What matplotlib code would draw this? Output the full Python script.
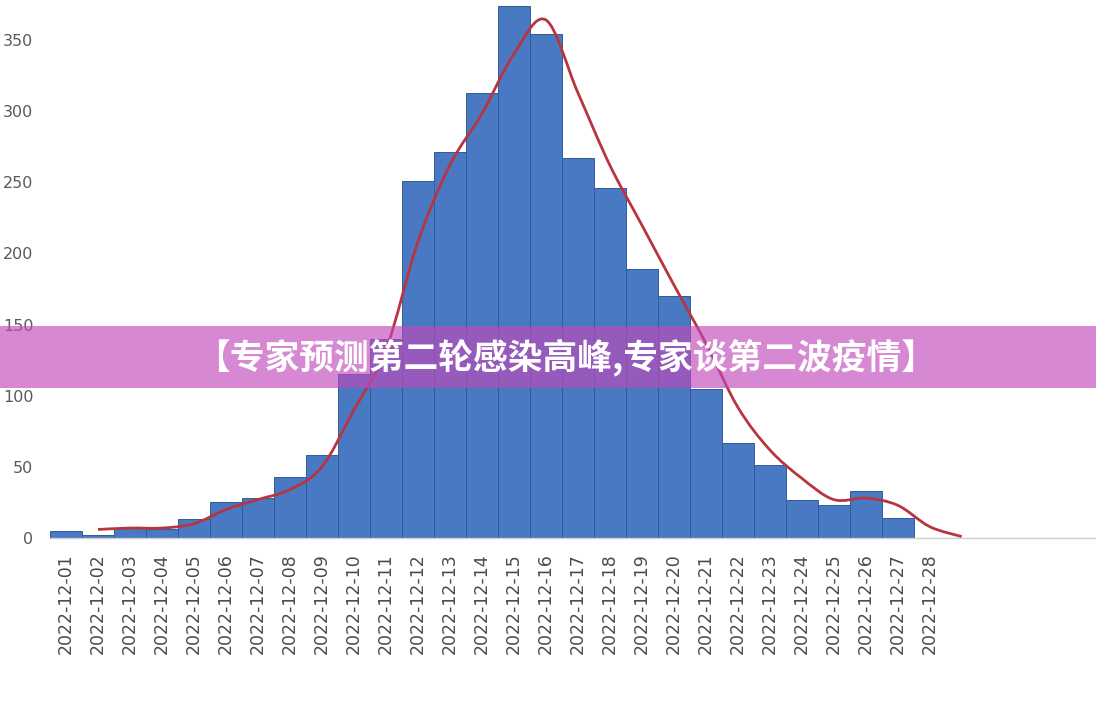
import numpy as np
import matplotlib
matplotlib.use("Agg")
import matplotlib.pyplot as plt
from matplotlib.path import Path
from matplotlib.patches import PathPatch, Rectangle

# ---- data ----
dates = ["2022-12-01", "2022-12-02", "2022-12-03", "2022-12-04", "2022-12-05",
         "2022-12-06", "2022-12-07", "2022-12-08", "2022-12-09", "2022-12-10",
         "2022-12-11", "2022-12-12", "2022-12-13", "2022-12-14", "2022-12-15",
         "2022-12-16", "2022-12-17", "2022-12-18", "2022-12-19", "2022-12-20",
         "2022-12-21", "2022-12-22", "2022-12-23", "2022-12-24", "2022-12-25",
         "2022-12-26", "2022-12-27", "2022-12-28"]
bar_values = [5, 2, 7, 6, 13, 25, 28, 43, 58, 115, 140, 251, 271, 313, 374,
              354, 267, 246, 189, 170, 105, 67, 51, 27, 23, 33, 14, 0]
# smoothed trend line (first category has no value, extends one step past last label)
line_values = [np.nan, 6, 7, 7, 10, 20, 27, 34, 50, 90, 132, 208, 262, 298, 340,
               364, 313, 262, 220, 178, 137, 92, 62, 42, 27, 28, 23, 8, 1]
yticks = [0, 50, 100, 150, 200, 250, 300, 350]
title = "【专家预测第二轮感染高峰,专家谈第二波疫情】"

# ---- figure ----
fig = plt.figure(figsize=(10.96, 7.14), dpi=100)
fig.patch.set_facecolor("white")
ax = fig.add_axes([50 / 1096, (714 - 538) / 714, 1 - 50 / 1096, 538 / 714])

x = np.arange(len(bar_values))
ax.bar(x, bar_values, width=1.0, color="#4879c2", edgecolor="#305c98",
       linewidth=0.7, zorder=2)

# smooth line (Catmull-Rom converted to cubic Bezier path)
lx = np.arange(len(line_values), dtype=float)
ly = np.array(line_values, dtype=float)
ok = ~np.isnan(ly)
px, py = lx[ok], ly[ok]
pts = np.column_stack([px, py])
verts = [tuple(pts[0])]
codes = [Path.MOVETO]
n = len(pts)
for i in range(n - 1):
    p0 = pts[max(i - 1, 0)]
    p1 = pts[i]
    p2 = pts[i + 1]
    p3 = pts[min(i + 2, n - 1)]
    c1 = p1 + (p2 - p0) / 6.0
    c2 = p2 - (p3 - p1) / 6.0
    verts += [tuple(c1), tuple(c2), tuple(p2)]
    codes += [Path.CURVE4] * 3
ax.add_patch(PathPatch(Path(verts, codes), facecolor="none",
                       edgecolor="#b83540", linewidth=2.0, zorder=3))

ax.set_xlim(-0.5, 32.2)
ax.set_ylim(0, 378)
ax.set_xticks(x)
ax.set_xticklabels(dates, rotation=90, va="top", ha="center",
                   fontsize=12.5, color="#4a4a4a")
ax.set_yticks(yticks)
ax.set_yticklabels([str(v) for v in yticks], fontsize=11.5, color="#5a5a5a")
ax.tick_params(axis="x", length=0, pad=11)
ax.tick_params(axis="y", length=0, pad=12)
for s in ["left", "top", "right"]:
    ax.spines[s].set_visible(False)
ax.spines["bottom"].set_color("#cfcfcf")
ax.spines["bottom"].set_linewidth(1.0)
ax.set_facecolor("white")

# ---- banner ----
fig.add_artist(Rectangle((0, (714 - 388) / 714), 1, 62 / 714,
                         transform=fig.transFigure,
                         facecolor=(193 / 255, 74 / 255, 186 / 255),
                         alpha=0.65, edgecolor="none", zorder=10))
fig.text(566 / 1096, (714 - 357) / 714, title, ha="center", va="center",
         color="white", fontsize=25, fontweight="bold",
         family=["Noto Sans CJK SC", "DejaVu Sans"], zorder=11)

fig.savefig("out.png", dpi=100, facecolor="white")
